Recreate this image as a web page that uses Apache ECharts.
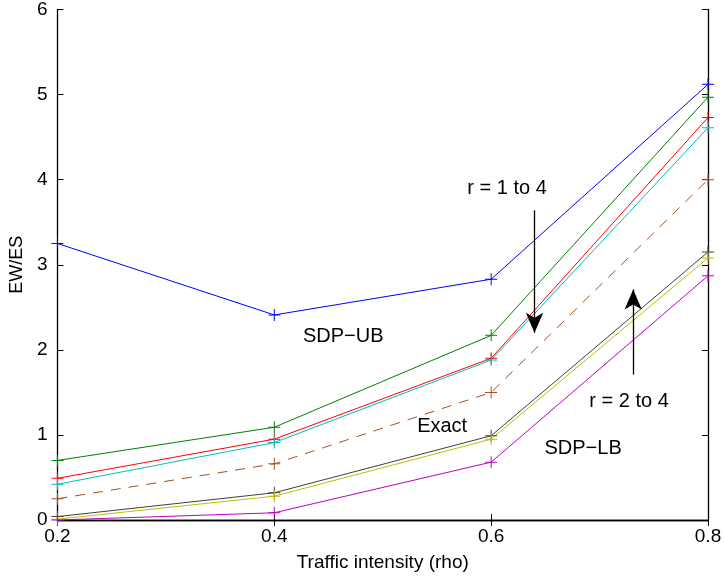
<!DOCTYPE html>
<html><head><meta charset="utf-8">
<script src="https://cdn.jsdelivr.net/npm/echarts@6/dist/echarts.min.js"></script>
<style>html,body{margin:0;padding:0;background:#fff}#c{width:725px;height:583px}</style>
</head><body><div id="c"></div>
<script>
const rho = [0.2, 0.4, 0.6, 0.8];
const ubBlue = [3.25, 2.41, 2.83, 5.12];
const ubGreen = [0.70, 1.09, 2.17, 4.97];
const ubRed = [0.49, 0.95, 1.90, 4.73];
const ubCyan = [0.42, 0.91, 1.88, 4.61];
const exact = [0.25, 0.66, 1.50, 4.00];
const lbGray = [0.04, 0.32, 0.99, 3.15];
const lbYellow = [0.01, 0.28, 0.95, 3.08];
const lbMagenta = [0.00, 0.085, 0.68, 2.87];
const xTicks = [0.2, 0.4, 0.6, 0.8];
const yTicks = [0, 1, 2, 3, 4, 5, 6];
const notes = [
  {text: 'SDP\u2212UB', x: 0.4636, y: 2.16},
  {text: 'Exact', x: 0.5548, y: 1.10},
  {text: 'SDP\u2212LB', x: 0.6848, y: 0.84},
  {text: 'r = 1 to 4', x: 0.6147, y: 3.895},
  {text: 'r = 2 to 4', x: 0.7272, y: 1.39}
];
const arrows = [
  {from: [0.64, 3.64], to: [0.64, 2.20]},
  {from: [0.731, 1.71], to: [0.731, 2.71]}
];

const FONT = 'Liberation Sans, Arial, sans-serif';
const plus = 'path://M11,0H13V11H24V13H13V24H11V13H0V11H11Z';
function mk(name, vals, color, dashed) {
  return {
    name, type: 'line', data: rho.map((r, i) => [r, vals[i]]),
    symbol: plus, symbolSize: 12, showSymbol: true, clip: false,
    lineStyle: {color, width: 1, type: dashed ? [10, 8] : 'solid'},
    itemStyle: {color},
    emphasis: {disabled: true}, animation: false, z: 3
  };
}
const series = [
  mk('blue', ubBlue, '#0000ff'),
  mk('green', ubGreen, '#008000'),
  mk('red', ubRed, '#ff0000'),
  mk('cyan', ubCyan, '#00bfbf'),
  mk('exact', exact, '#a5501e', true),
  mk('gray', lbGray, '#404040'),
  mk('yellow', lbYellow, '#bfbf00'),
  mk('magenta', lbMagenta, '#bf00bf'),
  {
    type: 'line', data: [], silent: true, animation: false,
    markPoint: {
      symbol: 'circle', symbolSize: 0, animation: false,
      label: {show: true, position: 'inside', color: '#000', fontFamily: FONT, fontSize: 20,
        formatter: p => p.name},
      data: notes.map(n => ({name: n.text, coord: [n.x, n.y]}))
    },
    markLine: {
      silent: true, animation: false, symbol: ['none', 'arrow'], symbolSize: [13, 20],
      label: {show: false},
      lineStyle: {color: '#000', width: 1.3, type: 'solid'},
      data: arrows.map(a => [{coord: a.from}, {coord: a.to}])
    }
  }
];
const axisCommon = {
  type: 'value',
  axisLine: {show: true, lineStyle: {color: '#000', width: 1.3}},
  axisTick: {show: true, inside: true, length: 6, lineStyle: {color: '#000'}},
  splitLine: {show: false}
};
const chart = echarts.init(document.getElementById('c'), null, {renderer: 'canvas'});
chart.setOption({
  animation: false,
  backgroundColor: '#fff',
  grid: {left: 57, right: 17, top: 7, bottom: 63},
  xAxis: [
    Object.assign({}, axisCommon, {
      min: xTicks[0], max: xTicks[xTicks.length - 1], interval: 0.2,
      name: 'Traffic intensity (rho)', nameLocation: 'middle', nameGap: 33,
      nameTextStyle: {fontFamily: FONT, fontSize: 19, color: '#000'},
      axisLabel: {fontFamily: FONT, fontSize: 19, color: '#000', margin: 7,
        formatter: v => v.toFixed(1)}
    }),
    Object.assign({}, axisCommon, {
      position: 'top', min: xTicks[0], max: xTicks[xTicks.length - 1], interval: 0.2,
      axisLabel: {show: false}
    })
  ],
  yAxis: [
    Object.assign({}, axisCommon, {
      min: yTicks[0], max: yTicks[yTicks.length - 1], interval: 1,
      name: 'EW/ES', nameLocation: 'middle', nameGap: 29,
      nameTextStyle: {fontFamily: FONT, fontSize: 18, color: '#000'},
      axisLabel: {fontFamily: FONT, fontSize: 19, color: '#000', margin: 10}
    }),
    Object.assign({}, axisCommon, {
      position: 'right', min: yTicks[0], max: yTicks[yTicks.length - 1], interval: 1,
      axisLabel: {show: false}
    })
  ],
  series
});
</script></body></html>
